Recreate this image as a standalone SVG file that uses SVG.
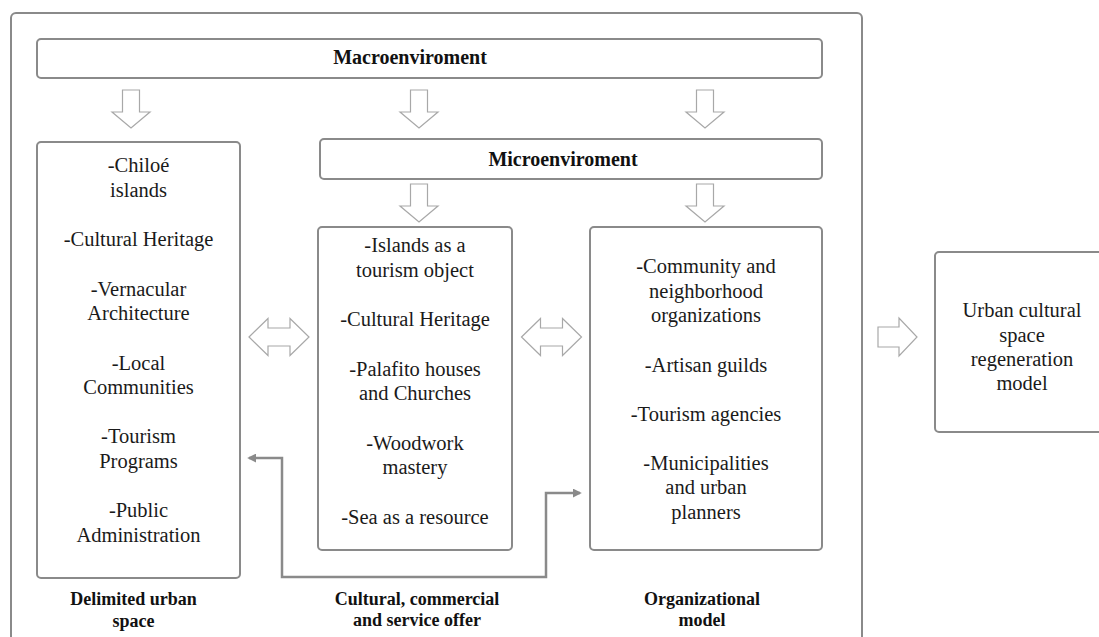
<svg xmlns="http://www.w3.org/2000/svg" width="1099" height="637" viewBox="0 0 1099 637">
<style>
.box{fill:#fff;stroke:#8a8a8a;stroke-width:2}
.t{font-family:"Liberation Serif","Times New Roman",serif;font-size:20.5px;fill:#1a1a1a;text-anchor:middle}
.b{font-family:"Liberation Serif","Times New Roman",serif;font-weight:bold;font-size:20px;fill:#111;text-anchor:middle}
.lb{font-family:"Liberation Serif","Times New Roman",serif;font-weight:bold;font-size:18px;fill:#111;text-anchor:middle}
.ba{fill:#fff;stroke:#a8a8a8;stroke-width:1.2}
.con{fill:none;stroke:#8a8a8a;stroke-width:2.5}
</style>
<defs>
<path id="down" d="M-8.5,0 H8.5 V22 H19 L0,38 L-19,22 H-8.5 Z"/>
<path id="dbl" d="M-30,0 L-11,-18.5 V-9 H11 V-18.5 L30,0 L11,18.5 V9 H-11 V18.5 Z"/>
<marker id="ah" viewBox="0 0 10 10" refX="8" refY="5" markerWidth="3.6" markerHeight="3.6" orient="auto-start-reverse" markerUnits="strokeWidth">
<path d="M0,0 L10,5 L0,10 Z" fill="#8a8a8a"/>
</marker>
</defs>
<rect width="1099" height="637" fill="#fff"/>
<g id="frame"><rect class="box" x="11" y="13" width="851" height="640" rx="5"/></g>
<g id="macro"><rect class="box" x="37" y="39" width="785" height="39" rx="4"/><text class="b" x="410" y="64">Macroenviroment</text></g>
<g id="micro"><rect class="box" x="320" y="139" width="502" height="40" rx="4"/><text class="b" x="563" y="166">Microenviroment</text></g>
<g id="delimited">
<rect class="box" x="37" y="142" width="203" height="436" rx="4"/>
<text class="t" x="138.5" y="172">-Chiloé</text>
<text class="t" x="138.5" y="197">islands</text>
<text class="t" x="138.5" y="246">-Cultural Heritage</text>
<text class="t" x="138.5" y="296">-Vernacular</text>
<text class="t" x="138.5" y="320">Architecture</text>
<text class="t" x="138.5" y="370">-Local</text>
<text class="t" x="138.5" y="394">Communities</text>
<text class="t" x="138.5" y="443">-Tourism</text>
<text class="t" x="138.5" y="468">Programs</text>
<text class="t" x="138.5" y="517">-Public</text>
<text class="t" x="138.5" y="542">Administration</text>
<text class="lb" x="133.5" y="605">Delimited urban</text>
<text class="lb" x="133.5" y="627">space</text>
</g>
<g id="offer">
<rect class="box" x="318" y="227" width="194" height="323" rx="4"/>
<text class="t" x="415" y="252">-Islands as a</text>
<text class="t" x="415" y="277">tourism object</text>
<text class="t" x="415" y="326">-Cultural Heritage</text>
<text class="t" x="415" y="376">-Palafito houses</text>
<text class="t" x="415" y="400">and Churches</text>
<text class="t" x="415" y="450">-Woodwork</text>
<text class="t" x="415" y="474">mastery</text>
<text class="t" x="415" y="524">-Sea as a resource</text>
<text class="lb" x="417" y="605">Cultural, commercial</text>
<text class="lb" x="417" y="626">and service offer</text>
</g>
<g id="organizational">
<rect class="box" x="590" y="227" width="232" height="323" rx="4"/>
<text class="t" x="706" y="273">-Community and</text>
<text class="t" x="706" y="298">neighborhood</text>
<text class="t" x="706" y="322">organizations</text>
<text class="t" x="706" y="372">-Artisan guilds</text>
<text class="t" x="706" y="421">-Tourism agencies</text>
<text class="t" x="706" y="470">-Municipalities</text>
<text class="t" x="706" y="494">and urban</text>
<text class="t" x="706" y="519">planners</text>
<text class="lb" x="702" y="605">Organizational</text>
<text class="lb" x="702" y="626">model</text>
</g>
<g id="result">
<rect class="box" x="935" y="252" width="200" height="180" rx="4"/>
<text class="t" x="1022" y="317">Urban cultural</text>
<text class="t" x="1022" y="342">space</text>
<text class="t" x="1022" y="366">regeneration</text>
<text class="t" x="1022" y="390">model</text>
</g>
<g id="connectors">
<use href="#down" class="ba" x="131" y="90"/>
<use href="#down" class="ba" x="419" y="90"/>
<use href="#down" class="ba" x="705" y="90"/>
<use href="#down" class="ba" x="419" y="184"/>
<use href="#down" class="ba" x="705" y="184"/>
<use href="#dbl" class="ba" x="279" y="337"/>
<use href="#dbl" class="ba" x="551.5" y="337"/>
<path class="ba" d="M878,327 H899 V318 L917,337 L899,356 V347 H878 Z"/>
<path class="con" d="M249,458 H282 V577 H546 V493 H580" marker-start="url(#ah)" marker-end="url(#ah)"/>
</g>
</svg>
